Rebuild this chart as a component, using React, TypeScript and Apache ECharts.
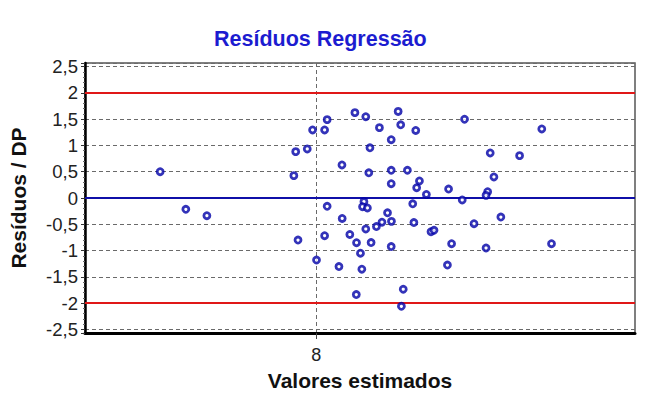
import React, { useEffect, useRef } from "react";
import * as echarts from "echarts";

const titleText = "Resíduos Regressão";
const xName = "Valores estimados";
const yName = "Resíduos / DP";
const xTickValues = [8];
const limitLines = [2, -2];
const zeroLine = [0];

// fitted values (x) and standardized residuals (y)
const fitted = [
  7.325, 7.436, 7.527, 7.903, 7.911, 7.961, 7.921, 7.984, 8.036, 8.047,
  8.167, 8.111, 8.047, 8.112, 8.036, 8.001, 8.145, 8.174, 8.098, 8.173,
  8.191, 8.197, 8.206, 8.2, 8.221, 8.214, 8.354, 8.365, 8.273, 8.43,
  8.324, 8.232, 8.641, 8.975, 8.752, 8.879, 8.227, 8.324, 8.394, 8.768,
  8.324, 8.446, 8.434, 8.572, 8.476, 8.741, 8.734, 8.417, 8.631, 8.308,
  8.325, 8.284, 8.26, 8.214, 8.422, 8.682, 8.798, 8.496, 8.509, 8.237,
  8.324, 8.585, 8.734, 9.017, 8.567, 8.376, 8.368,
];
const residuals = [
  0.5, -0.215, -0.337, 0.425, 0.882, 0.933, -0.8, 1.295, 1.295, 1.491,
  1.625, 0.629, -0.158, -0.39, -0.718, -1.181, -0.695, -0.851, -1.305, -1.838,
  -1.051, -1.356, -0.07, -0.166, -0.19, 1.547, 1.648, 1.394, 1.339, 1.286,
  1.11, 0.956, 1.499, 1.314, 0.857, 0.806, 0.48, 0.528, 0.528, 0.4,
  0.272, 0.324, 0.196, 0.171, 0.067, 0.12, 0.051, -0.11, -0.038, -0.282,
  -0.444, -0.461, -0.543, -0.59, -0.467, -0.49, -0.362, -0.642, -0.615, -0.848,
  -0.924, -0.87, -0.952, -0.87, -1.276, -1.737, -2.061,
];

const FONT = "'Liberation Sans', Arial, sans-serif";

export default function App() {
  const ref = useRef<HTMLDivElement>(null);
  useEffect(() => {
    if (!ref.current) return;
    const chart = echarts.init(ref.current, undefined, { renderer: "svg" });
    const points = fitted.map((x, i) => [x, residuals[i]]);
    chart.setOption({
      animation: false,
      backgroundColor: "#ffffff",
      title: {
        text: titleText,
        left: 214,
        top: 28,
        padding: 0,
        textStyle: { color: "#1c1cd0", fontSize: 21.5, fontWeight: "bold", fontFamily: FONT },
      },
      grid: {
        left: 84,
        right: 16,
        top: 63,
        bottom: 70,
        show: true,
        borderColor: "#555",
        borderWidth: 1.5,
        containLabel: false,
      },
      xAxis: {
        type: "value",
        min: 7,
        max: 9.378,
        name: xName,
        nameLocation: "middle",
        nameGap: 37,
        nameTextStyle: { color: "#111", fontSize: 21, fontWeight: "bold", fontFamily: FONT },
        axisLine: { show: true, onZero: false, lineStyle: { color: "#000", width: 3 } },
        axisTick: { show: true, customValues: xTickValues, length: 6, lineStyle: { color: "#444" } },
        axisLabel: {
          customValues: xTickValues,
          margin: 13,
          color: "#222",
          fontSize: 18,
          fontFamily: FONT,
        },
        splitLine: { show: true, lineStyle: { color: "#6a6a6a", type: [4, 3], width: 1 } },
      },
      yAxis: {
        type: "value",
        min: -2.57,
        max: 2.57,
        splitNumber: 10,
        name: yName,
        nameLocation: "middle",
        nameGap: 56,
        nameTextStyle: { color: "#111", fontSize: 21, fontWeight: "bold", fontFamily: FONT },
        axisLine: { show: true, onZero: false, lineStyle: { color: "#000", width: 2.5 } },
        axisTick: { show: true, length: 4, lineStyle: { color: "#333" } },
        minorTick: { show: true, splitNumber: 5, length: 2, lineStyle: { color: "#666" } },
        axisLabel: {
          showMinLabel: false,
          showMaxLabel: false,
          margin: 7,
          color: "#222",
          fontSize: 18.5,
          fontFamily: FONT,
          formatter: (v: number) => {
            if (Math.abs(v * 2 - Math.round(v * 2)) > 1e-6) return "";
            return String(Math.round(v * 10) / 10).replace(".", ",");
          },
        },
        splitLine: { show: true, lineStyle: { color: "#6a6a6a", type: [4, 3], width: 1 } },
      },
      series: [
        {
          type: "scatter",
          data: points,
          symbol: "circle",
          symbolSize: 6,
          z: 5,
          itemStyle: { color: "#ffffff", borderColor: "#0000a8", borderWidth: 2.8 },
          markLine: {
            silent: true,
            symbol: "none",
            label: { show: false },
            z: 3,
            data: [
              ...limitLines.map((v) => ({ yAxis: v, lineStyle: { color: "#e01818", width: 2, type: "solid" } })),
              ...zeroLine.map((v) => ({ yAxis: v, lineStyle: { color: "#0f0fa8", width: 2, type: "solid" } })),
            ],
          },
        },
      ],
    });
    return () => chart.dispose();
  }, []);
  return <div ref={ref} style={{ width: 651, height: 403, position: "absolute", left: 0, top: 0 }} />;
}
